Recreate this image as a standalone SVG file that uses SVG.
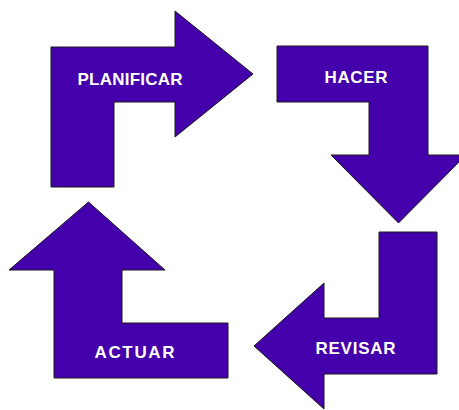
<svg xmlns="http://www.w3.org/2000/svg" width="459" height="410" viewBox="0 0 459 410">
  <style>
    .arrow { fill: #4400AA; stroke: #1a1a1a; stroke-width: 1; stroke-linejoin: miter; }
    .label { fill: #ffffff; font-family: "Liberation Sans", Arial, sans-serif; font-weight: bold; font-size: 17px; text-anchor: middle; }
  </style>
  <rect width="459" height="410" fill="#ffffff"/>
  <g id="planificar">
    <polygon class="arrow" points="51,47 175,47 175,11 253,74 175,137 175,102 114,102 114,187 51,187"/>
    <text class="label" x="130" y="85" textLength="105" lengthAdjust="spacing">PLANIFICAR</text>
  </g>
  <g id="hacer">
    <polygon class="arrow" points="277,46 428,46 428,155 466,155 398.5,223 331,155 369,155 369,102 277,102"/>
    <text class="label" x="356" y="83" textLength="63" lengthAdjust="spacing">HACER</text>
  </g>
  <g id="revisar">
    <polygon class="arrow" points="437,232 437,374 324,374 324,409 254,346 324,283 324,318 379,318 379,232"/>
    <text class="label" x="355.5" y="354" textLength="80" lengthAdjust="spacing">REVISAR</text>
  </g>
  <g id="actuar">
    <polygon class="arrow" points="54,378 54,270 9,270 88.5,202 165,270 122,270 122,323 228,323 228,378"/>
    <text class="label" x="134.5" y="357.5" textLength="80" lengthAdjust="spacing">ACTUAR</text>
  </g>
  <g id="connectors"/>
</svg>
